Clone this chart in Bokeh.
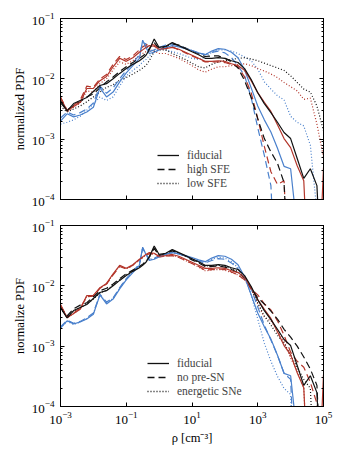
import numpy as np
from bokeh.plotting import figure
from bokeh.layouts import column
from bokeh.models import (LogAxis, FixedTicker, LogTicker, Legend, LegendItem,
                          ColumnDataSource, CustomJSTickFormatter)
from bokeh.embed import file_html
from bokeh.resources import INLINE

# ---- data (log10 values) ----
log10_rho = [-3.0, -2.8, -2.6, -2.4, -2.2, -2.0, -1.8, -1.6, -1.4, -1.2, -1.0, -0.8, -0.6,
             -0.5, -0.4, -0.3, -0.15,
             0.0, 0.2, 0.4, 0.6, 0.8, 1.0, 1.2, 1.4, 1.6, 1.8, 2.0, 2.2, 2.4, 2.6, 2.8, 3.0,
             3.2, 3.4, 3.6, 3.8, 4.0, 4.2, 4.4, 4.6, 4.8, 5.0]

# fiducial (solid) - shared by both panels
fid_black = [-2.36, -2.53, -2.41, -2.36, -2.31, -2.21, -2.11, -2.08, -2.00, -1.91, -1.83, -1.76, -1.70,
             -1.66, -1.61, -1.52, -1.34,
             -1.48, -1.46, -1.40, -1.45, -1.50, -1.55, -1.60, -1.66, -1.66, -1.65, -1.66, -1.70, -1.73,
             -1.83, -2.01, -2.23, -2.41, -2.56, -2.72, -2.89, -2.99, -3.32, -3.65, -3.49, -3.77, -6.0]
fid_red = [-2.31, -2.53, -2.46, -2.39, -2.16, -2.16, -2.03, -1.96, -1.80, -1.66, -1.71, -1.65, -1.56,
           -1.52, -1.48, -1.45, -1.46,
           -1.51, -1.50, -1.48, -1.51, -1.56, -1.61, -1.66, -1.71, -1.71, -1.70, -1.71, -1.75, -1.78,
           -1.86, -2.03, -2.23, -2.39, -2.54, -2.76, -2.99, -3.14, -3.44, -3.69, -6.0, -6.0, -3.47]
fid_blue = [-2.70, -2.58, -2.63, -2.60, -2.55, -2.47, -2.15, -2.30, -2.22, -2.05, -1.90, -1.78, -1.66,
            -1.36, -1.48, -1.58, -1.56,
            -1.52, -1.48, -1.45, -1.47, -1.50, -1.53, -1.57, -1.60, -1.54, -1.50, -1.51, -1.56, -1.65,
            -1.85, -2.15, -2.45, -2.68, -2.88, -3.15, -3.45, -3.49, -4.50, -6.0, -6.0, -6.0, -6.0]

# high SFE (dashed, top panel)
hsfe_black = [-2.40, -2.52, -2.45, -2.38, -2.30, -2.25, -2.15, -2.05, -1.97, -1.88, -1.80, -1.73, -1.66,
              -1.62, -1.58, -1.50, -1.40,
              -1.50, -1.47, -1.42, -1.44, -1.49, -1.54, -1.58, -1.63, -1.62, -1.62, -1.66, -1.72, -1.82,
              -2.03, -2.31, -2.66, -2.99, -3.21, -3.40, -3.72, -6.0, -6.0, -6.0, -6.0, -6.0, -6.0]
hsfe_red = [-2.30, -2.52, -2.44, -2.35, -2.12, -2.14, -2.00, -1.93, -1.76, -1.63, -1.68, -1.62, -1.52,
            -1.47, -1.44, -1.42, -1.44,
            -1.50, -1.49, -1.47, -1.52, -1.57, -1.62, -1.67, -1.72, -1.72, -1.72, -1.73, -1.76, -1.80,
            -1.97, -2.23, -2.66, -3.12, -3.54, -3.75, -3.69, -6.0, -6.0, -6.0, -6.0, -6.0, -6.0]
hsfe_blue = [-2.65, -2.55, -2.60, -2.56, -2.50, -2.40, -2.12, -2.24, -2.15, -2.00, -1.86, -1.74, -1.60,
             -1.40, -1.42, -1.55, -1.52,
             -1.48, -1.44, -1.42, -1.45, -1.49, -1.53, -1.57, -1.60, -1.56, -1.54, -1.57, -1.65, -1.78,
             -1.95, -2.31, -2.81, -3.27, -3.77, -6.0, -6.0, -6.0, -6.0, -6.0, -6.0, -6.0, -6.0]

# low SFE (dotted, top panel)
lsfe_black = [-2.45, -2.55, -2.50, -2.45, -2.38, -2.30, -2.22, -2.14, -2.10, -2.02, -1.98, -1.92, -1.86,
              -1.82, -1.78, -1.70, -1.55,
              -1.52, -1.52, -1.58, -1.63, -1.68, -1.74, -1.80, -1.82, -1.76, -1.72, -1.70, -1.68, -1.66,
              -1.65, -1.67, -1.70, -1.74, -1.78, -1.82, -1.86, -1.95, -2.06, -2.17, -2.22, -2.45, -2.86]
lsfe_red = [-2.35, -2.55, -2.47, -2.40, -2.20, -2.22, -2.08, -2.00, -1.85, -1.72, -1.76, -1.70, -1.62,
            -1.58, -1.55, -1.52, -1.54,
            -1.58, -1.58, -1.62, -1.66, -1.72, -1.78, -1.85, -1.89, -1.84, -1.80, -1.80, -1.78, -1.76,
            -1.75, -1.78, -1.83, -1.87, -1.92, -1.98, -2.06, -2.13, -2.20, -2.34, -2.32, -2.75, -3.30]
lsfe_blue = [-2.75, -2.72, -2.68, -2.62, -2.52, -2.42, -2.30, -2.36, -2.30, -2.12, -1.95, -1.86, -1.78,
             -1.72, -1.68, -1.62, -1.55,
             -1.50, -1.52, -1.55, -1.58, -1.62, -1.66, -1.68, -1.64, -1.56, -1.52, -1.52, -1.54, -1.58,
             -1.64, -1.70, -1.84, -2.05, -2.17, -2.28, -2.35, -2.62, -2.72, -2.78, -3.10, -4.20, -6.0]

# no pre-SN (dashed, bottom panel)
nopre_black = [-2.35, -2.50, -2.38, -2.32, -2.28, -2.18, -2.08, -2.04, -1.97, -1.88, -1.80, -1.74, -1.68,
               -1.64, -1.59, -1.52, -1.38,
               -1.50, -1.47, -1.42, -1.46, -1.51, -1.57, -1.62, -1.68, -1.68, -1.67, -1.69, -1.73, -1.78,
               -1.87, -2.03, -2.20, -2.30, -2.42, -2.55, -2.72, -2.85, -3.00, -3.18, -3.38, -3.65, -6.0]
nopre_red = [-2.32, -2.52, -2.45, -2.37, -2.18, -2.17, -2.04, -1.97, -1.82, -1.68, -1.72, -1.66, -1.57,
             -1.53, -1.49, -1.47, -1.47,
             -1.52, -1.51, -1.50, -1.53, -1.58, -1.63, -1.68, -1.74, -1.73, -1.72, -1.73, -1.77, -1.82,
             -1.90, -2.05, -2.15, -2.30, -2.40, -2.58, -2.82, -3.10, -3.25, -3.35, -3.60, -3.95, -6.0]
nopre_blue = [-2.68, -2.57, -2.62, -2.59, -2.53, -2.45, -2.14, -2.27, -2.20, -2.03, -1.88, -1.76, -1.64,
              -1.38, -1.47, -1.56, -1.54,
              -1.50, -1.47, -1.45, -1.47, -1.51, -1.55, -1.59, -1.62, -1.58, -1.55, -1.56, -1.62, -1.72,
              -1.85, -2.05, -2.35, -2.65, -2.90, -3.15, -3.45, -3.55, -6.0, -6.0, -6.0, -6.0, -6.0]

# energetic SNe (dotted, bottom panel)
energ_black = [-2.38, -2.52, -2.42, -2.36, -2.30, -2.22, -2.12, -2.07, -1.99, -1.90, -1.82, -1.75, -1.69,
               -1.65, -1.60, -1.53, -1.36,
               -1.49, -1.47, -1.41, -1.46, -1.51, -1.56, -1.61, -1.67, -1.67, -1.66, -1.68, -1.72, -1.76,
               -1.86, -2.05, -2.28, -2.50, -2.65, -2.82, -2.95, -3.15, -3.35, -3.55, -3.70, -6.0, -6.0]
energ_red = [-2.33, -2.53, -2.46, -2.38, -2.17, -2.17, -2.04, -1.97, -1.81, -1.67, -1.72, -1.66, -1.57,
             -1.53, -1.49, -1.46, -1.47,
             -1.52, -1.51, -1.49, -1.53, -1.58, -1.63, -1.69, -1.75, -1.74, -1.73, -1.74, -1.78, -1.82,
             -1.90, -2.05, -2.30, -2.52, -2.58, -2.75, -2.92, -3.20, -3.40, -3.70, -6.0, -6.0, -6.0]
energ_blue = [-2.70, -2.59, -2.64, -2.60, -2.54, -2.46, -2.15, -2.28, -2.21, -2.04, -1.89, -1.77, -1.65,
              -1.37, -1.48, -1.57, -1.55,
              -1.51, -1.48, -1.45, -1.47, -1.50, -1.54, -1.58, -1.61, -1.56, -1.53, -1.54, -1.60, -1.70,
              -1.85, -2.15, -2.55, -2.95, -3.25, -3.50, -3.70, -3.80, -6.0, -6.0, -6.0, -6.0, -6.0]

x_ticks = [1e-3, 1e-1, 1e1, 1e3, 1e5]

FONT = "Liberation Serif"
BLACK, RED, BLUE = "#111111", "#b3362b", "#4a80cc"
DASH = {"solid": "solid", "dashed": "7 4", "dotted": "1 2"}


def style_axis(ax, is_x, show_labels):
    if is_x:
        ax.ticker = FixedTicker(ticks=x_ticks, minor_ticks=[])
    else:
        ax.ticker = LogTicker(num_minor_ticks=10)
    ax.major_tick_in = 4
    ax.major_tick_out = 0
    ax.minor_tick_in = 2
    ax.minor_tick_out = 0
    ax.axis_line_color = "black"
    ax.major_tick_line_color = "black"
    ax.minor_tick_line_color = "black"
    ax.major_label_text_font = FONT
    ax.major_label_text_color = "black"
    ax.major_label_text_font_size = "13px"
    ax.axis_label_text_font = FONT
    ax.axis_label_text_font_size = "12.5px"
    ax.axis_label_text_font_style = "normal"
    ax.axis_label_text_color = "black"
    if show_labels:
        ax.major_label_standoff = 5 if is_x else 6
    else:
        ax.formatter = CustomJSTickFormatter(code="return ''")
        ax.major_label_standoff = 0


def make_panel(ylabel, groups, legend_labels, bottom, legend_loc, height, mb_top, mb_bottom):
    p = figure(width=338, height=height, x_axis_type="log", y_axis_type="log",
               x_range=(1e-3, 1e5), y_range=(1e-4, 1e-1),
               output_backend="svg", toolbar_location=None,
               min_border_left=60, min_border_right=15,
               min_border_top=mb_top, min_border_bottom=mb_bottom)
    p.grid.visible = False
    p.outline_line_color = "black"
    p.outline_line_width = 1
    p.background_fill_color = "white"
    p.border_fill_color = "white"

    style_axis(p.xaxis[0], True, bottom)
    style_axis(p.yaxis[0], False, True)
    p.yaxis[0].axis_label = ylabel
    p.yaxis[0].axis_label_standoff = 2
    if bottom:
        p.xaxis[0].axis_label = "ρ [cm⁻³]"
        p.xaxis[0].axis_label_standoff = 4

    top_ax = LogAxis()
    style_axis(top_ax, True, False)
    p.add_layout(top_ax, "above")
    right_ax = LogAxis()
    style_axis(right_ax, False, False)
    p.add_layout(right_ax, "right")

    rho = np.power(10.0, np.array(log10_rho))
    for dash, series in groups:
        for color, vals in series:
            src = ColumnDataSource(dict(x=rho, y=np.power(10.0, np.array(vals))))
            p.line("x", "y", source=src, line_color=color, line_width=1.2,
                   line_dash=DASH[dash])

    items = []
    for dash, lab in zip(["solid", "dashed", "dotted"], legend_labels):
        src = ColumnDataSource(dict(x=[1e-3], y=[1e-6]))
        r = p.line("x", "y", source=src, line_color=BLACK, line_width=1.3, line_dash=DASH[dash])
        items.append(LegendItem(label=lab, renderers=[r]))
    leg = Legend(items=items, location=legend_loc, padding=0, margin=0, spacing=0,
                 glyph_width=22, glyph_height=14, label_height=14, label_standoff=8,
                 label_text_font=FONT, label_text_font_size="11.5px",
                 background_fill_alpha=0, border_line_color=None)
    p.add_layout(leg)
    return p


top = make_panel(
    "normalized PDF",
    [("dotted", [(BLUE, lsfe_blue), (RED, lsfe_red), (BLACK, lsfe_black)]),
     ("dashed", [(BLUE, hsfe_blue), (RED, hsfe_red), (BLACK, hsfe_black)]),
     ("solid", [(BLUE, fid_blue), (RED, fid_red), (BLACK, fid_black)])],
    ["fiducial", "high SFE", "low SFE"], False, (97, 9), 214, 18, 15)

bot = make_panel(
    "normalize PDF",
    [("dotted", [(BLUE, energ_blue), (RED, energ_red), (BLACK, energ_black)]),
     ("dashed", [(BLUE, nopre_blue), (RED, nopre_red), (BLACK, nopre_black)]),
     ("solid", [(BLUE, fid_blue), (RED, fid_red), (BLACK, fid_black)])],
    ["fiducial", "no pre-SN", "energetic SNe"], True, (87, 8), 235, 11, 43)

layout = column(top, bot, spacing=0)
open("out.html", "w").write(file_html(layout, INLINE))
